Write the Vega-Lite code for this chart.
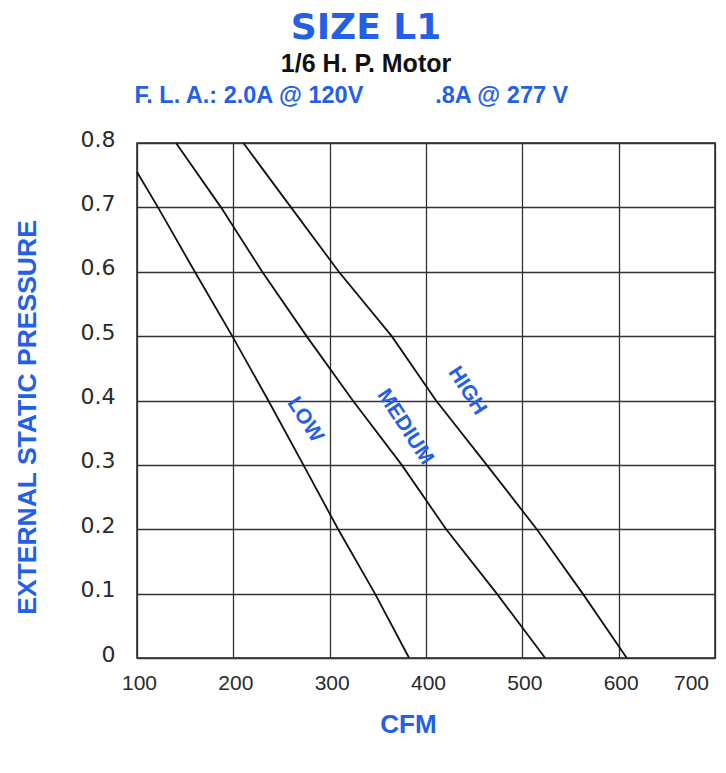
{
  "$schema": "https://vega.github.io/schema/vega-lite/v6.json",
  "width": 578,
  "height": 515,
  "autosize": {"type": "none"},
  "padding": {"left": 137, "top": 143, "right": 11, "bottom": 115},
  "background": "white",
  "config": {
    "view": {"stroke": "#222", "strokeWidth": 1.5}
  },
  "title": {
    "text": "SIZE L1",
    "subtitle": "1/6 H. P. Motor",
    "anchor": "middle",
    "dx": -60,
    "offset": 5,
    "font": "DejaVu Sans",
    "fontSize": 36,
    "fontWeight": "bold",
    "color": "#2460e6",
    "subtitleFont": "Liberation Sans",
    "subtitleFontSize": 25,
    "subtitleFontWeight": "bold",
    "subtitleColor": "#111111",
    "subtitlePadding": 5
  },
  "datasets": {
    "curves": [
      {"speed": "LOW", "cfm": 100, "esp": 0.755},
      {"speed": "LOW", "cfm": 121.8, "esp": 0.7},
      {"speed": "LOW", "cfm": 160, "esp": 0.6},
      {"speed": "LOW", "cfm": 198.9, "esp": 0.5},
      {"speed": "LOW", "cfm": 236.3, "esp": 0.4},
      {"speed": "LOW", "cfm": 272.7, "esp": 0.3},
      {"speed": "LOW", "cfm": 308.8, "esp": 0.2},
      {"speed": "LOW", "cfm": 347, "esp": 0.1},
      {"speed": "LOW", "cfm": 382.5, "esp": 0},
      {"speed": "MEDIUM", "cfm": 140.5, "esp": 0.8},
      {"speed": "MEDIUM", "cfm": 187.2, "esp": 0.7},
      {"speed": "MEDIUM", "cfm": 230, "esp": 0.6},
      {"speed": "MEDIUM", "cfm": 276, "esp": 0.5},
      {"speed": "MEDIUM", "cfm": 324, "esp": 0.4},
      {"speed": "MEDIUM", "cfm": 374.8, "esp": 0.3},
      {"speed": "MEDIUM", "cfm": 420.9, "esp": 0.2},
      {"speed": "MEDIUM", "cfm": 473.5, "esp": 0.1},
      {"speed": "MEDIUM", "cfm": 523.7, "esp": 0},
      {"speed": "HIGH", "cfm": 210.4, "esp": 0.8},
      {"speed": "HIGH", "cfm": 259.9, "esp": 0.7},
      {"speed": "HIGH", "cfm": 309.5, "esp": 0.6},
      {"speed": "HIGH", "cfm": 364.4, "esp": 0.5},
      {"speed": "HIGH", "cfm": 410.4, "esp": 0.4},
      {"speed": "HIGH", "cfm": 463, "esp": 0.3},
      {"speed": "HIGH", "cfm": 515, "esp": 0.2},
      {"speed": "HIGH", "cfm": 562.7, "esp": 0.1},
      {"speed": "HIGH", "cfm": 608.4, "esp": 0}
    ],
    "curveLabels": [
      {"speed": "LOW", "cfm": 274.4, "esp": 0.37},
      {"speed": "MEDIUM", "cfm": 378.2, "esp": 0.359},
      {"speed": "HIGH", "cfm": 442.6, "esp": 0.415}
    ]
  },
  "encoding": {
    "y": {
      "field": "esp",
      "type": "quantitative",
      "scale": {"domain": [0, 0.8], "nice": false},
      "axis": {
        "values": [0, 0.1, 0.2, 0.3, 0.4, 0.5, 0.6, 0.7, 0.8],
        "labelExpr": "datum.value == 0 ? '0' : format(datum.value, '.1f')",
        "labelFont": "DejaVu Sans",
        "labelFontSize": 22,
        "labelColor": "#2a2a2a",
        "labelPadding": 22,
        "labelOffset": -4,
        "labelFlush": false,
        "ticks": false,
        "tickSize": 0,
        "domain": false,
        "grid": true,
        "gridColor": "#333333",
        "gridWidth": 1.3,
        "gridOpacity": 1,
        "title": "EXTERNAL STATIC PRESSURE",
        "titleFont": "Liberation Sans",
        "titleFontSize": 26.5,
        "titleFontWeight": "bold",
        "titleColor": "#2460e6",
        "titleAngle": -90,
        "titleAlign": "center",
        "titleBaseline": "middle",
        "titleX": -110,
        "titleY": 274
      }
    }
  },
  "layer": [
    {
      "data": {"name": "curves"},
      "mark": {"type": "line", "color": "#111111", "strokeWidth": 1.8},
      "encoding": {
        "x": {
          "field": "cfm",
          "type": "quantitative",
          "scale": {"domain": [100, 700], "nice": false, "zero": false},
          "axis": {
            "orient": "bottom",
            "values": [100, 200, 300, 400, 500, 600, 700],
            "format": "d",
            "labelFont": "Liberation Sans",
            "labelFontSize": 21,
            "labelColor": "#2a2a2a",
            "labelPadding": 14,
            "labelFlush": false,
            "labelOffset": {"condition": {"test": "datum.value == 700", "value": -24}, "value": 2},
            "ticks": false,
            "tickSize": 0,
            "domain": false,
            "grid": true,
            "gridColor": "#333333",
            "gridWidth": 1.3,
            "gridOpacity": 1,
            "title": "CFM",
            "titleFont": "Liberation Sans",
            "titleFontSize": 26,
            "titleFontWeight": "bold",
            "titleColor": "#2460e6",
            "titleBaseline": "alphabetic",
            "titleX": 271,
            "titleY": 74
          }
        },
        "detail": {"field": "speed"}
      }
    },
    {
      "data": {"name": "curveLabels"},
      "mark": {
        "type": "text",
        "angle": 57,
        "align": "center",
        "baseline": "middle",
        "font": "Liberation Sans",
        "fontSize": 21,
        "fontWeight": "bold",
        "color": "#2460e6"
      },
      "encoding": {
        "x": {
          "field": "cfm",
          "type": "quantitative",
          "scale": {"domain": [100, 700], "nice": false, "zero": false},
          "axis": {
            "orient": "top",
            "labels": false,
            "ticks": false,
            "domain": false,
            "grid": false,
            "title": "F. L. A.: 2.0A @ 120V\u00a0\u00a0\u00a0\u00a0\u00a0\u00a0\u00a0\u00a0\u00a0\u00a0\u00a0.8A @ 277\u00a0V",
            "titleFont": "Liberation Sans",
            "titleFontSize": 23.5,
            "titleFontWeight": "bold",
            "titleColor": "#2460e6",
            "titleAlign": "left",
            "titleAnchor": "start",
            "titleX": -3,
            "titlePadding": 36
          }
        },
        "text": {"field": "speed"}
      }
    }
  ],
  "resolve": {"axis": {"x": "independent"}}
}
